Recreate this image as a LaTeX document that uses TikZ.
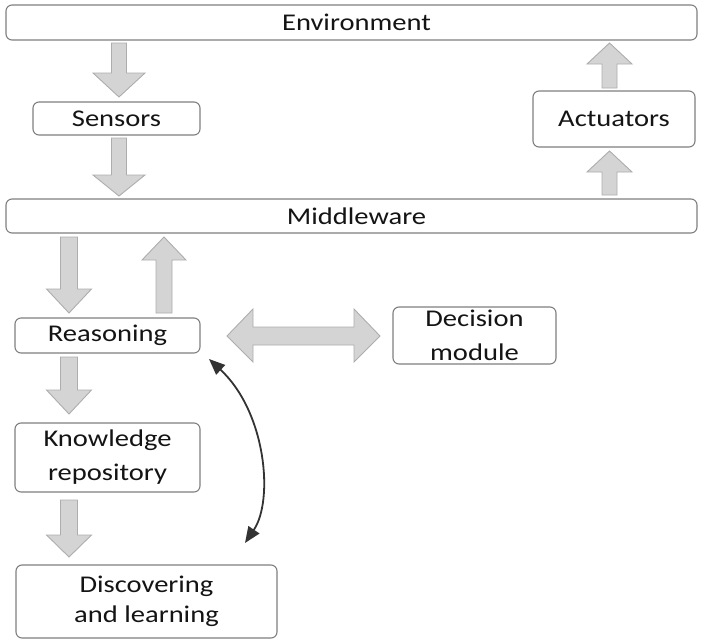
\documentclass[tikz,border=0pt]{standalone}
\usepackage{fontspec}
\setmainfont{Carlito}[FakeStretch=1.19]
\usetikzlibrary{arrows.meta,calc}
\definecolor{boxline}{HTML}{7F7F7F}
\definecolor{blkfill}{HTML}{D4D4D4}
\definecolor{blkline}{HTML}{ADADAD}
\definecolor{ink}{HTML}{141414}
\definecolor{curveink}{HTML}{333333}
% vertical block arrow: x, tail y, head-base y, tip y, shaft half width, head half width
\newcommand\vblock[6]{%
  \draw[blk] ({#1-#5},#2) -- ({#1+#5},#2) -- ({#1+#5},#3) -- ({#1+#6},#3) -- (#1,#4)
    -- ({#1-#6},#3) -- ({#1-#5},#3) -- cycle;}
\tikzset{fbtip/.tip={Triangle[length=16pt,width=13pt]}}
\begin{document}
\begin{tikzpicture}[x=1pt,y=-1pt,
  box/.style={draw=boxline, line width=1.1pt, rounded corners=6pt, fill=white, text=ink,
    inner sep=0pt, align=center, font=\fontsize{24}{34}\selectfont},
  blk/.style={fill=blkfill, draw=blkline, line width=0.9pt, line join=miter}]
\useasboundingbox (0,0) rectangle (702,640);

% boxes
\node[box, minimum width=691pt, minimum height=35pt] (env) at (351.5,22.5) {\hspace*{10pt}Environment};
\node[box, minimum width=167pt, minimum height=33pt] (sens) at (116.5,118.5) {Sensors};
\node[box, minimum width=691pt, minimum height=34pt] (mid) at (351.5,216) {\hspace*{10pt}Middleware};
\node[box, minimum width=162pt, minimum height=56pt] (act) at (614,119) {Actuators};
\node[box, minimum width=185pt, minimum height=35pt] (reas) at (107.5,335.5) {Reasoning};
\node[box, minimum width=163pt, minimum height=57pt] (dec) at (474.5,335.5) {Decision\\module};
\node[box, minimum width=185pt, minimum height=69pt] (know) at (107.5,457.5) {Knowledge\\repository};
\node[box, minimum width=261pt, minimum height=73pt, font=\fontsize{24}{30}\selectfont] (disc) at (146.5,601.5) {Discovering\\and learning};

% block arrows
\vblock{119}{43}{73}{97}{7.5}{26}
\vblock{119}{138}{175}{196}{7.5}{26}
\vblock{609.5}{195}{172}{151}{7.5}{22.5}
\vblock{609.5}{88}{64}{43}{7.5}{22.5}
\vblock{69}{237}{289}{313}{8.5}{22.5}
\vblock{164}{313}{260}{237}{8}{22}
\vblock{69}{357}{390}{414}{8.5}{22.5}
\vblock{69}{500}{535}{557}{8.5}{22.5}
\draw[blk] (227,336) -- (253,309) -- (253,327) -- (354,327) -- (354,309) -- (380,336)
  -- (354,362) -- (354,345) -- (253,345) -- (253,362) -- cycle;

% feedback between reasoning and learning
\coordinate (ca) at (209,359);
\coordinate (cb) at (245,543);
\draw[draw=curveink, line width=1.8pt, fbtip-fbtip] (ca) .. controls (266,412) and (274,500) .. (cb);
\end{tikzpicture}
\end{document}
